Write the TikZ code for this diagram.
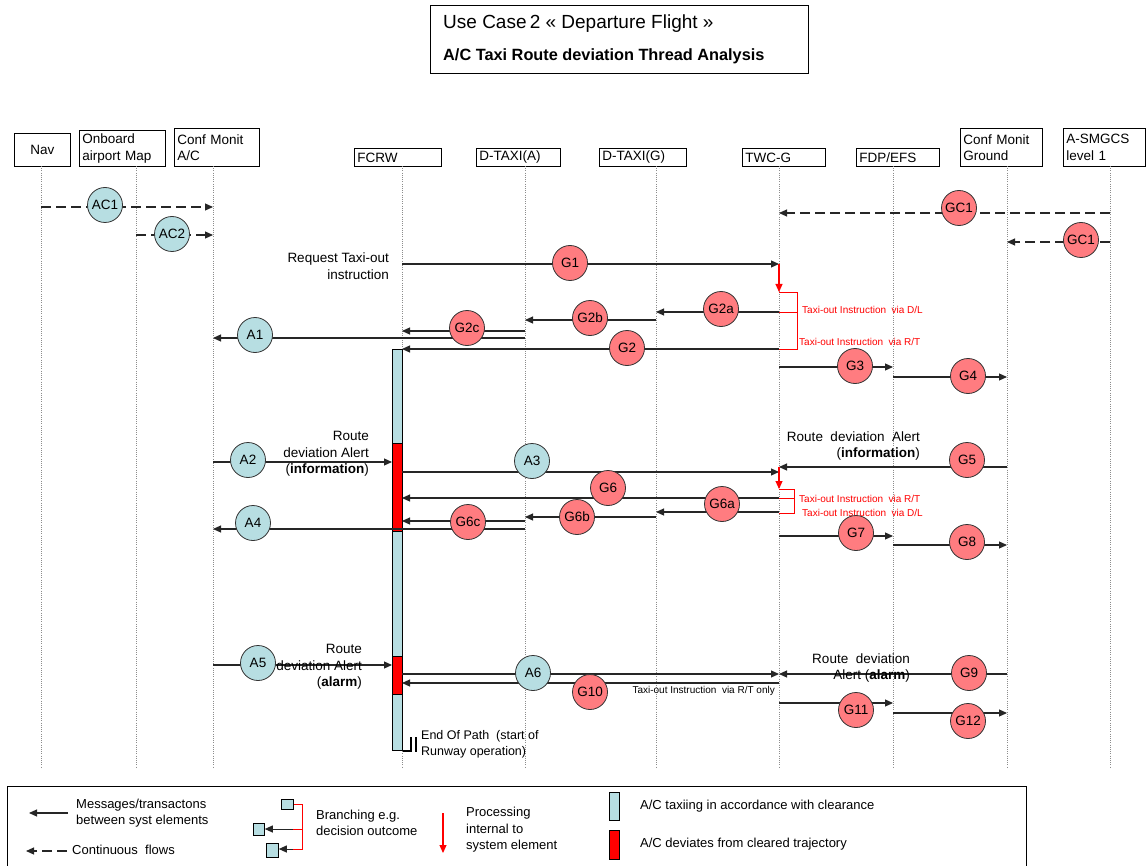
\documentclass[tikz,border=0pt]{standalone}
\usepackage{fontspec}
\setmainfont{Liberation Sans}
\usetikzlibrary{arrows.meta}

\definecolor{okfill}{RGB}{183,222,226}
\definecolor{gndfill}{RGB}{255,124,128}
\newcommand\fsz[2]{\fontsize{#1}{#2}\selectfont}

\begin{document}
\begin{tikzpicture}[x=1pt,y=-1pt,
  hdr/.style={draw, line width=0.9pt, anchor=north west, inner xsep=3pt, inner ysep=0pt, align=left, font=\fsz{13.5}{16.5}},
  life/.style={draw=black!45, line width=0.6pt, dash pattern=on 1pt off 1.2pt},
  msg/.style={draw=black!85, line width=1.1pt, -{Triangle[length=8pt,width=7pt]}},
  flow/.style={msg, dash pattern=on 10pt off 5pt},
  proc/.style={draw=red, line width=1.1pt, -{Triangle[length=8pt,width=7pt]}},
  brk/.style={draw=red, line width=0.8pt},
  circ/.style={circle, draw=black!80, line width=0.8pt, minimum size=35pt, inner sep=0pt, font=\fsz{13.5}{15}},
  ac/.style={circ, fill=okfill},
  gr/.style={circ, fill=gndfill},
  lbl/.style={font=\fsz{13.5}{16.5}, inner sep=0pt},
  rlbl/.style={font=\fsz{10}{12}, text=red, inner sep=0pt, anchor=west},
  leg/.style={font=\fsz{13}{16.5}, inner sep=0pt, anchor=west, align=left},
  seg/.style={draw=black, line width=0.8pt, anchor=north west, inner sep=0pt}
]
\useasboundingbox (0,0) rectangle (1147,866);

% ---- title ----
\node[draw, line width=1pt, anchor=north west, minimum width=378pt, minimum height=68pt, inner sep=0pt] (title) at (430,5) {};
\node[anchor=west, inner sep=0pt, font=\fsz{19}{22}] (t1) at (443,24) {Use Case\,2 « Departure Flight »};
\node[anchor=west, inner sep=0pt, font=\fsz{16.3}{19}\bfseries] (t2) at (443,56) {A/C Taxi Route deviation Thread Analysis};

% ---- system elements ----
\node[hdr, align=center, text width=50pt, minimum height=33pt] (h-nav) at (14,133) {Nav};
\node[hdr, text width=80pt, minimum height=36pt] (h-onb) at (79,130) {Onboard\\airport Map};
\node[hdr, text width=79pt, minimum height=38pt] (h-cmac) at (174,128) {Conf Monit\\A/C};
\node[hdr, text width=81pt, minimum height=18pt] (h-fcrw) at (354,148) {FCRW};
\node[hdr, text width=78pt, minimum height=18pt] (h-dta) at (476,148) {D-TAXI(A)};
\node[hdr, text width=81pt, minimum height=18pt] (h-dtg) at (599,148) {D-TAXI(G)};
\node[hdr, text width=77pt, minimum height=18pt] (h-twc) at (742,148) {TWC-G};
\node[hdr, text width=77pt, minimum height=18pt] (h-fdp) at (856,148) {FDP/EFS};
\node[hdr, text width=76pt, minimum height=38pt] (h-cmg) at (960,128) {Conf Monit\\Ground};
\node[hdr, text width=76pt, minimum height=38pt] (h-asm) at (1063,128) {A-SMGCS\\level 1};

% lifeline tops and bottoms
\foreach \n/\x in {nav/41, onb/136, cmac/213, fcrw/402, dta/525, dtg/656, twc/779, fdp/893, cmg/1007, asm/1110}{
  \coordinate (\n) at (\x,166);
  \coordinate (\n-end) at (\x,768);
  \draw[life] (\n) -- (\n-end);
}

% ---- FCRW activation bar ----
\node[seg, fill=okfill, minimum width=10pt, minimum height=401pt] (bar) at (392,349) {};
\node[seg, fill=red, minimum width=10pt, minimum height=88pt] (dev1) at (392,443) {};
\node[seg, fill=red, minimum width=10pt, minimum height=38pt] (dev2) at (392,656) {};

% end of path marker
\coordinate (eop1) at (411,737);
\coordinate (eop2a) at (416,737);
\coordinate (eop2b) at (416,752);
\draw[line width=1.5pt] (bar.south east) -| (eop1);
\draw[line width=1.5pt] (eop2a) -- (eop2b);
\node[leg, font=\fsz{12.5}{16}] (eop) at (421,744) {End Of Path\ \ (start of\\Runway operation)};

% ---- continuous flows ----
\draw[flow] (nav |- 0,207) -- (cmac |- 0,207);
\draw[flow] (onb |- 0,235) -- (cmac |- 0,235);
\draw[flow] (asm |- 0,213) -- (twc |- 0,213);
\draw[flow] (asm |- 0,242) -- (cmg |- 0,242);

% ---- taxi-out request and instruction ----
\draw[msg] (fcrw |- 0,264) -- (twc |- 0,264);
\node[lbl, anchor=east, align=right] (req) at (389,266) {Request Taxi-out\\instruction};
\draw[proc] (twc |- 0,264) -- (twc |- 0,292);
\draw[brk] (twc |- 0,292) -| (797,349) -- (twc |- 0,349);
\draw[brk] (twc |- 0,312) -- (797,312);
\node[rlbl] (dl1) at (802,310) {Taxi-out Instruction\ \ via D/L};
\node[rlbl] (rt1) at (799,342) {Taxi-out Instruction\ \ via R/T};

\draw[msg] (twc |- 0,312) -- (dtg |- 0,312);
\draw[msg] (dtg |- 0,320) -- (dta |- 0,320);
\draw[msg] (dta |- 0,331) -- (fcrw |- 0,331);
\draw[msg] (dta |- 0,338) -- (cmac |- 0,338);
\draw[msg] (twc |- 0,349) -- (fcrw |- 0,349);
\draw[msg] (twc |- 0,367) -- (fdp |- 0,367);
\draw[msg] (fdp |- 0,377) -- (cmg |- 0,377);

% ---- route deviation information ----
\draw[msg] (cmac |- 0,462) -- (bar.west |- 0,462);
\node[lbl, anchor=east, align=right] (rda1) at (369,454) {Route\\deviation Alert\\(\textbf{information})};
\draw[msg] (fcrw |- 0,472) -- (twc |- 0,472);
\draw[msg] (cmg |- 0,467) -- (twc |- 0,467);
\node[lbl, anchor=east, align=right] (rdg1) at (920,446) {Route\ \ deviation\ \ Alert\\(\textbf{information})};
\draw[proc] (twc |- 0,467) -- (twc |- 0,489);
\draw[brk] (twc |- 0,489) -| (794,513) -- (twc |- 0,513);
\draw[brk] (twc |- 0,498) -- (794,498);
\node[rlbl] (rt2) at (799,499) {Taxi-out Instruction\ \ via R/T};
\node[rlbl] (dl2) at (802,513) {Taxi-out Instruction\ \ via D/L};

\draw[msg] (twc |- 0,498) -- (fcrw |- 0,498);
\draw[msg] (twc |- 0,512) -- (dtg |- 0,512);
\draw[msg] (dtg |- 0,517) -- (dta |- 0,517);
\draw[msg] (dta |- 0,521) -- (fcrw |- 0,521);
\draw[msg] (dta |- 0,529) -- (cmac |- 0,529);
\draw[msg] (twc |- 0,536) -- (fdp |- 0,536);
\draw[msg] (fdp |- 0,545) -- (cmg |- 0,545);

% ---- route deviation alarm ----
\draw[msg] (cmac |- 0,665) -- (bar.west |- 0,665);
\node[lbl, anchor=east, align=right] (rda2) at (362,667) {Route\\deviation Alert\\(\textbf{alarm})};
\draw[msg] (fcrw |- 0,674) -- (twc |- 0,674);
\draw[msg] (cmg |- 0,674) -- (twc |- 0,674);
\node[lbl, anchor=east, align=right] (rdg2) at (910,668) {Route\ \ deviation\\Alert (\textbf{alarm})};
\draw[msg] (twc |- 0,683) -- (fcrw |- 0,683);
\node[font=\fsz{10}{12}, inner sep=0pt, anchor=east] (rto) at (775,691) {Taxi-out Instruction\ \ via R/T only};
\draw[msg] (twc |- 0,703) -- (fdp |- 0,703);
\draw[msg] (fdp |- 0,713) -- (cmg |- 0,713);

% ---- flow identifiers ----
\node[ac] (c-ac1) at (105,205) {AC1};
\node[ac] (c-ac2) at (172,234) {AC2};
\node[gr] (c-gc1a) at (959,208) {GC1};
\node[gr] (c-gc1b) at (1081,240) {GC1};
\node[gr] (c-g1) at (570,263) {G1};
\node[gr] (c-g2a) at (721,309) {G2a};
\node[gr] (c-g2b) at (590,318) {G2b};
\node[gr] (c-g2c) at (467,328) {G2c};
\node[ac] (c-a1) at (255,335) {A1};
\node[gr] (c-g2) at (627,348) {G2};
\node[gr] (c-g3) at (855,366) {G3};
\node[gr] (c-g4) at (968,376) {G4};
\node[ac] (c-a2) at (248,460) {A2};
\node[ac] (c-a3) at (532,461) {A3};
\node[gr] (c-g5) at (967,460) {G5};
\node[gr] (c-g6) at (608,488) {G6};
\node[gr] (c-g6a) at (722,504) {G6a};
\node[gr] (c-g6b) at (577,517) {G6b};
\node[gr] (c-g6c) at (468,522) {G6c};
\node[ac] (c-a4) at (253,523) {A4};
\node[gr] (c-g7) at (856,533) {G7};
\node[gr] (c-g8) at (967,542) {G8};
\node[ac] (c-a5) at (258,663) {A5};
\node[ac] (c-a6) at (533,673) {A6};
\node[gr] (c-g9) at (969,673) {G9};
\node[gr] (c-g10) at (590,692) {G10};
\node[gr] (c-g11) at (856,710) {G11};
\node[gr] (c-g12) at (968,721) {G12};

% ---- legend ----
\node[draw, line width=1pt, anchor=north west, minimum width=1019pt, minimum height=100pt, inner sep=0pt] (legend) at (7,786) {};
\coordinate (lm1) at (68,813); \coordinate (lm2) at (29,813);
\draw[msg] (lm1) -- (lm2);
\node[leg] (lmt) at (76,813) {Messages/transactons\\between syst elements};
\coordinate (lf1) at (67,851); \coordinate (lf2) at (26,851);
\draw[flow] (lf1) -- (lf2);
\node[leg] (lft) at (72,850) {Continuous\ \ flows};

\node[seg, fill=okfill, minimum width=12pt, minimum height=10pt] (sq1) at (281,799) {};
\node[seg, fill=okfill, minimum width=11pt, minimum height=12pt] (sq2) at (253,823) {};
\node[seg, fill=okfill, minimum width=12pt, minimum height=14pt] (sq3) at (266,843) {};
\coordinate (b1) at (302,804); \coordinate (b2) at (293,829); \coordinate (b3) at (293,849);
\draw[msg, line width=1pt] (b2) -- (sq2.east |- b2);
\draw[msg, line width=1pt] (b3) -- (sq3.east |- b3);
\draw[brk] (sq1.east |- b1) -- (b1) |- (b3);
\draw[brk] (b2) -- (b1 |- b2);
\node[leg] (lbt) at (316,823) {Branching e.g.\\decision outcome};

\coordinate (lp1) at (443,813); \coordinate (lp2) at (443,853);
\draw[proc] (lp1) -- (lp2);
\node[leg] (lpt) at (466,830) {Processing\\internal to\\system element};

\node[seg, fill=okfill, minimum width=10pt, minimum height=28pt] (lok) at (609,792) {};
\node[seg, fill=red, minimum width=10pt, minimum height=29pt] (ldev) at (609,830) {};
\node[leg] (lokt) at (640,806) {A/C taxiing in accordance with clearance};
\node[leg] (ldevt) at (640,844) {A/C deviates from cleared trajectory};
\end{tikzpicture}
\end{document}
